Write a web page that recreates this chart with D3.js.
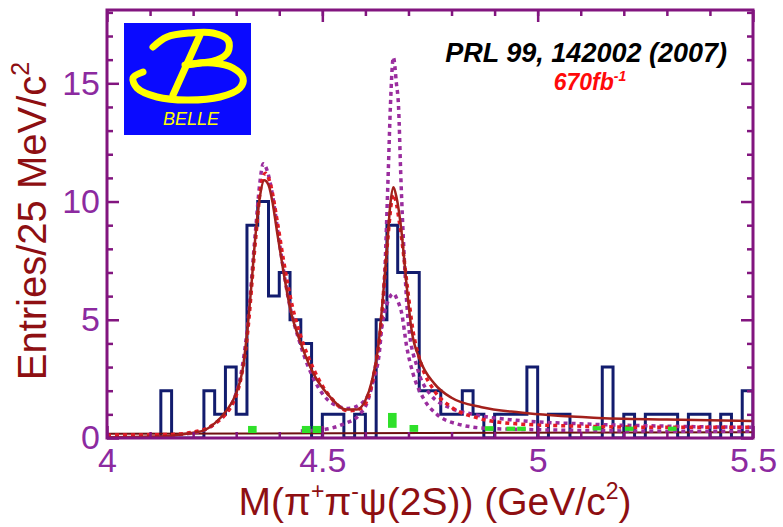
<!DOCTYPE html>
<html>
<head>
<meta charset="utf-8">
<script src="https://cdn.jsdelivr.net/npm/d3@7"></script>
<style>
  body { margin: 0; background: #fff; }
  text { font-family: "Liberation Sans", Arial, Helvetica, sans-serif; }
</style>
</head>
<body>
<svg id="chart" width="783" height="527"></svg>
<script>
// events per 25 MeV/c2 bin, M(pi+ pi- psi(2S)) from 4.000 to 5.500 GeV/c2
var binLo = 4.0
var binWidth = 0.025
var counts = [0, 0, 0, 0, 0, 2, 0, 0, 0, 2, 1, 3, 1,
  9, 10, 6, 7, 5, 4, 0, 1, 1, 0, 1, 0,
  5, 9, 7, 7, 2, 2, 1, 1, 2, 1, 0,
  1, 1, 1, 3, 0, 1, 1, 0, 0, 0,
  3, 0, 1, 0, 1, 1, 1, 0, 1, 1, 0, 1, 0, 2]

// fit curves, [mass, entries]
var fitTotal = [[4.00, 0.03], [4.10, 0.06], [4.15, 0.10], [4.20, 0.22], [4.225, 0.32], [4.25, 0.62],
  [4.275, 1.1], [4.30, 1.9], [4.315, 2.9], [4.325, 4.4], [4.335, 6.4], [4.345, 8.6], [4.355, 10.2],
  [4.365, 10.9], [4.375, 10.7], [4.385, 9.9], [4.395, 8.7], [4.41, 7.0], [4.425, 5.5], [4.45, 4.0],
  [4.48, 2.7], [4.52, 1.7], [4.555, 1.2], [4.58, 1.2], [4.60, 1.6], [4.615, 2.4], [4.63, 3.9],
  [4.64, 5.8], [4.65, 8.0], [4.658, 9.9], [4.665, 10.6], [4.672, 10.2], [4.684, 8.7], [4.696, 6.4],
  [4.707, 4.6], [4.727, 3.3], [4.76, 2.3], [4.80, 1.7], [4.87, 1.3], [4.96, 1.08], [5.13, 0.86],
  [5.30, 0.78], [5.50, 0.72]]

var fitRed = [[4.00, 0.12], [4.15, 0.15], [4.20, 0.25], [4.25, 0.6], [4.30, 1.8], [4.325, 4.2],
  [4.345, 8.4], [4.357, 10.6], [4.368, 11.2], [4.38, 10.7], [4.395, 9.2], [4.41, 7.5], [4.43, 5.6],
  [4.45, 4.3], [4.48, 2.9], [4.52, 1.7], [4.56, 1.15], [4.59, 1.25], [4.615, 2.3], [4.635, 4.6],
  [4.65, 8.0], [4.665, 10.3], [4.68, 9.0], [4.696, 6.6], [4.71, 4.6], [4.73, 3.1], [4.76, 2.0],
  [4.80, 1.3], [4.86, 0.85], [4.95, 0.6], [5.10, 0.5], [5.30, 0.45], [5.50, 0.45]]

var fitPurple = [[4.00, 0.03], [4.10, 0.06], [4.20, 0.22], [4.25, 0.6], [4.30, 1.9], [4.325, 4.5],
  [4.345, 8.8], [4.355, 10.8], [4.363, 11.6], [4.372, 11.3], [4.385, 10.2], [4.40, 8.3], [4.42, 6.0],
  [4.45, 3.9], [4.48, 2.5], [4.52, 1.5], [4.56, 1.25], [4.59, 1.45], [4.62, 2.5], [4.635, 4.1],
  [4.645, 7.0], [4.653, 11.2], [4.658, 14.0], [4.665, 16.1], [4.672, 15.0], [4.677, 14.0],
  [4.682, 11.2], [4.69, 7.7], [4.70, 4.8], [4.72, 3.0], [4.75, 1.86], [4.80, 1.25], [4.85, 1.0],
  [4.95, 0.75], [5.10, 0.6], [5.30, 0.5], [5.50, 0.45]]

var fitNarrow = [[4.45, 0.3], [4.50, 0.35], [4.55, 0.6], [4.587, 1.0], [4.611, 1.9], [4.626, 3.3],
  [4.641, 5.0], [4.655, 5.9], [4.665, 6.1], [4.675, 5.8], [4.684, 5.3], [4.696, 3.85], [4.711, 2.7],
  [4.734, 1.7], [4.766, 1.0], [4.812, 0.6], [4.889, 0.4], [5.00, 0.35], [5.20, 0.3], [5.50, 0.28]]

var background = [[4.00, 0.18], [5.50, 0.24]]

// sideband estimate (green), bin centre with low / high edge
var sideMass = [4.3375, 4.4625, 4.4875, 4.6625, 4.7125, 4.8875, 4.9375, 4.9625, 5.1375, 5.2125, 5.3125]
var sideLow = [0.21, 0.21, 0.21, 0.43, 0.26, 0.30, 0.30, 0.30, 0.32, 0.30, 0.30]
var sideHigh = [0.51, 0.51, 0.51, 1.06, 0.55, 0.50, 0.48, 0.48, 0.50, 0.48, 0.48]

var xMajor = [4, 4.5, 5, 5.5]
var yMajor = [0, 5, 10, 15]

var svg = d3.select('#chart')
var plotL = 107, plotR = 753, plotT = 10, plotB = 438

var x = d3.scaleLinear().domain([4, 5.5]).range([plotL, plotR])
var y = d3.scaleLinear().domain([0, 18.1]).range([plotB, plotT])

var frameColor = '#82157f'
  , labelColor = '#8c2aa0'
  , titleColor = '#8e0f12'

svg.append('rect').attr('width', 783).attr('height', 527).attr('fill', '#fff')

svg.append('defs').append('clipPath').attr('id', 'plot')
  .append('rect')
  .attr('x', plotL).attr('y', plotT)
  .attr('width', plotR - plotL).attr('height', plotB - plotT)

var plot = svg.append('g').attr('clip-path', 'url(#plot)')

//histogram as a step outline
var steps = counts.map(function (c, i) { return [binLo + i * binWidth, c] })
steps.push([binLo + counts.length * binWidth, counts[counts.length - 1]])
steps.push([binLo + counts.length * binWidth, 0])

plot.append('path')
  .datum(steps)
  .attr('fill', 'none')
  .attr('stroke', '#121c6e')
  .attr('stroke-width', 3)
  .attr('d', d3.line()
    .x(function (d) { return x(d[0]) })
    .y(function (d) { return y(d[1]) })
    .curve(d3.curveStepAfter))

var smooth = d3.line()
  .x(function (d) { return x(d[0]) })
  .y(function (d) { return y(d[1]) })
  .curve(d3.curveMonotoneX)

plot.append('path').datum(background)
  .attr('fill', 'none').attr('stroke', '#6e1010').attr('stroke-width', 2)
  .attr('d', smooth)

var dotted = [
  { data: fitNarrow, color: '#9a2d9e' },
  { data: fitPurple, color: '#9a2d9e' },
  { data: fitRed, color: '#e21b25' }
]
dotted.forEach(function (c) {
  plot.append('path').datum(c.data)
    .attr('fill', 'none')
    .attr('stroke', c.color)
    .attr('stroke-width', 3.5)
    .attr('stroke-dasharray', '4,4')
    .attr('d', smooth)
})

plot.append('path').datum(fitTotal)
  .attr('fill', 'none').attr('stroke', '#a3201c').attr('stroke-width', 2.5)
  .attr('d', smooth)

//sideband boxes
plot.selectAll('.side')
  .data(sideMass)
  .enter()
  .append('rect')
  .attr('class', 'side')
  .attr('x', function (d) { return x(d - binWidth * 0.4) })
  .attr('width', x(binLo + binWidth * 0.8) - x(binLo))
  .attr('y', function (d, i) { return y(sideHigh[i]) })
  .attr('height', function (d, i) { return y(sideLow[i]) - y(sideHigh[i]) })
  .attr('fill', '#2fe02a')

//frame and ticks
svg.append('rect')
  .attr('x', plotL).attr('y', plotT)
  .attr('width', plotR - plotL).attr('height', plotB - plotT)
  .attr('fill', 'none').attr('stroke', frameColor).attr('stroke-width', 3)

function ticks (axis, pos, values, size, pad) {
  var g = svg.append('g')
    .attr('transform', pos)
    .call(axis.tickValues(values).tickSize(size).tickPadding(pad || 0)
      .tickFormat(pad ? function (d) { return String(d) } : ''))
  g.select('.domain').remove()
  g.selectAll('line').attr('stroke', frameColor).attr('stroke-width', 2.5)
  g.selectAll('text')
    .attr('fill', labelColor)
    .attr('font-size', 34)
    .attr('font-family', '"Liberation Sans", Arial, sans-serif')
  return g
}

var xMinor = d3.range(41, 55).map(function (d) { return d / 10 })
var yMinor = d3.range(1, 19).filter(function (d) { return d % 5 })

ticks(d3.axisBottom(x), 'translate(0,' + plotB + ')', xMinor, -6)
ticks(d3.axisBottom(x), 'translate(0,' + plotB + ')', xMajor, -12, 10)
ticks(d3.axisTop(x), 'translate(0,' + plotT + ')', xMinor, -6)
ticks(d3.axisTop(x), 'translate(0,' + plotT + ')', xMajor, -12)
ticks(d3.axisLeft(y), 'translate(' + plotL + ',0)', yMinor, -6)
ticks(d3.axisLeft(y), 'translate(' + plotL + ',0)', yMajor, -12, 7)
ticks(d3.axisRight(y), 'translate(' + plotR + ',0)', yMinor, -6)
ticks(d3.axisRight(y), 'translate(' + plotR + ',0)', yMajor, -12)

//axis titles
var xt = svg.append('text')
  .attr('x', 435).attr('y', 515)
  .attr('text-anchor', 'middle')
  .attr('font-size', 39)
  .attr('fill', titleColor)
xt.append('tspan').text('M(\u03c0')
xt.append('tspan').text('+').attr('font-size', 23).attr('dy', -16)
xt.append('tspan').text('\u03c0').attr('dy', 16)
xt.append('tspan').text('-').attr('font-size', 23).attr('dy', -16)
xt.append('tspan').text('\u03c8(2S)) (GeV/c').attr('dy', 16)
xt.append('tspan').text('2').attr('font-size', 23).attr('dy', -16)
xt.append('tspan').text(')').attr('dy', 16)

var yt = svg.append('text')
  .attr('transform', 'translate(46,221) rotate(-90)')
  .attr('text-anchor', 'middle')
  .attr('font-size', 40)
  .attr('fill', titleColor)
yt.append('tspan').text('Entries/25 MeV/c')
yt.append('tspan').text('2').attr('font-size', 25).attr('dy', -17)

//reference and luminosity
svg.append('text')
  .attr('x', 727).attr('y', 62)
  .attr('text-anchor', 'end')
  .attr('font-size', 27)
  .attr('font-weight', 'bold')
  .attr('font-style', 'italic')
  .attr('fill', '#000')
  .text('PRL 99, 142002 (2007)')

var lum = svg.append('text')
  .attr('x', 590).attr('y', 90)
  .attr('text-anchor', 'middle')
  .attr('font-size', 23)
  .attr('font-weight', 'bold')
  .attr('font-style', 'italic')
  .attr('fill', '#ff0a0a')
lum.append('tspan').text('670fb')
lum.append('tspan').text('-1').attr('font-size', 14).attr('dy', -9)

//Belle logo
var logo = svg.append('g').attr('transform', 'translate(124,23)')
logo.append('rect').attr('width', 127).attr('height', 112).attr('fill', '#0a0aff')

var pen = d3.line().curve(d3.curveCatmullRom)
var strokes = [
  [[76, 12], [49, 72]],
  [[29, 24], [43, 14], [66, 10], [89, 10], [104, 17], [104, 29], [93, 37], [76, 40], [61, 42]],
  [[19, 49], [9, 55], [13, 65], [33, 74], [63, 77], [96, 74], [116, 65], [119, 55], [109, 45], [89, 40], [66, 41]]
]
strokes.forEach(function (s) {
  logo.append('path')
    .attr('d', pen(s))
    .attr('fill', 'none')
    .attr('stroke', '#ffff00')
    .attr('stroke-width', 7)
    .attr('stroke-linecap', 'round')
})
logo.append('text')
  .attr('x', 67).attr('y', 102)
  .attr('text-anchor', 'middle')
  .attr('font-size', 18)
  .attr('font-style', 'italic')
  .attr('fill', '#ffff00')
  .text('BELLE')
</script>
</body>
</html>
